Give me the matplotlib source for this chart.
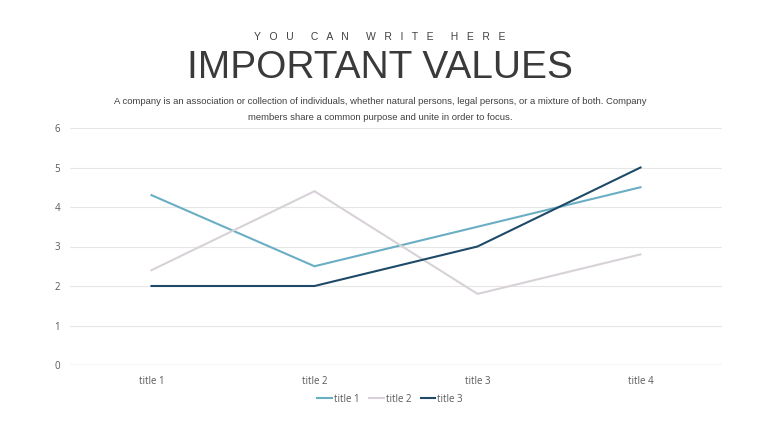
import matplotlib
matplotlib.use("Agg")
import matplotlib.pyplot as plt

categories = ["title 1", "title 2", "title 3", "title 4"]
series_names = ["title 1", "title 2", "title 3"]
s1 = [4.3, 2.5, 3.5, 4.5]
s2 = [2.4, 4.4, 1.8, 2.8]
s3 = [2.0, 2.0, 3.0, 5.0]
yticks = [0, 1, 2, 3, 4, 5, 6]
colors = ["#6aaec4", "#d8d2d8", "#1e4a68"]

fig = plt.figure(figsize=(7.6, 4.28), dpi=100)
fig.patch.set_facecolor("white")
ax = fig.add_axes([70/760, 1-365/428, (722-70)/760, (365-128)/428])

x = list(range(len(categories)))
for vals, name, c in zip([s1, s2, s3], series_names, colors):
    ax.plot(x, vals, color=c, lw=1.5, label=name, solid_joinstyle="miter")

ax.set_xlim(-0.5, 3.5)
ax.set_ylim(0, 6)
ax.set_yticks(yticks)
ax.set_xticks(x)
ax.set_xticklabels(categories)
for s in ax.spines.values():
    s.set_visible(False)
ax.grid(axis="y", color="#e6e6e6", lw=0.8)
ax.axhline(0, color="#d9d9d9", lw=1.0)
ax.set_axisbelow(True)
ax.tick_params(length=0, labelsize=7, labelcolor="#595959")
ax.tick_params(axis="x", pad=8)
ax.tick_params(axis="y", pad=7)
for lbl in ax.get_xticklabels() + ax.get_yticklabels():
    lbl.set_fontfamily("Open Sans")

leg = ax.legend(loc="center", bbox_to_anchor=(390/760, 1-399/428), bbox_transform=fig.transFigure,
                ncol=3, frameon=False, handlelength=1.5, handletextpad=0.2, columnspacing=1.0,
                prop={"family": "Open Sans", "size": 7})
for t in leg.get_texts():
    t.set_color("#595959")

fig.text(0.5, 1-37/428, "Y   O   U      C   A   N      W   R   I   T   E      H   E   R   E", ha="center", va="center",
         fontsize=7.5, color="#404040", family="Liberation Sans")
fig.text(0.5, 1-68/428, "IMPORTANT VALUES", ha="center", va="center",
         fontsize=28, color="#3a3a3a", family="Liberation Sans")
fig.text(0.5, 1-101/428, "A company is an association or collection of individuals, whether natural persons, legal persons, or a mixture of both. Company",
         ha="center", va="center", fontsize=6.8, color="#404040", family="Liberation Sans")
fig.text(0.5, 1-117/428, "members share a common purpose and unite in order to focus.",
         ha="center", va="center", fontsize=6.8, color="#404040", family="Liberation Sans")

fig.savefig("out.png", dpi=100, facecolor="white")
